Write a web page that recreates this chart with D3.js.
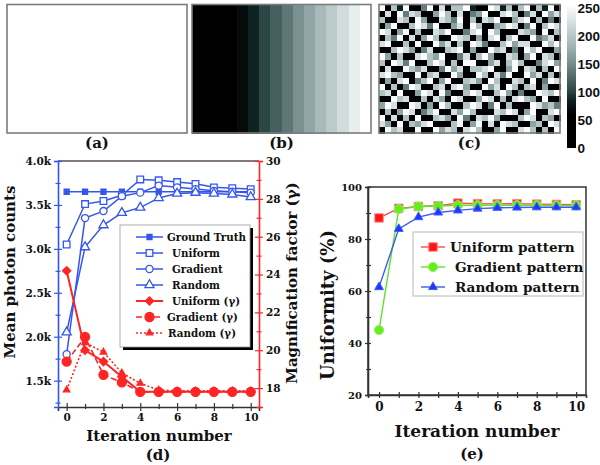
<!DOCTYPE html>
<html>
<head>
<meta charset="utf-8">
<script src="https://cdn.jsdelivr.net/npm/d3@7/dist/d3.min.js"></script>
<style>
html,body{margin:0;padding:0;background:#fff;}
svg{display:block;}
</style>
</head>
<body>
<svg id="chart" width="600" height="465"></svg>
<script>
// ---------------- data ----------------
const iterations = [0,1,2,3,4,5,6,7,8,9,10];
const groundTruthCounts = [3650,3650,3650,3650,3650,3650,3650,3650,3650,3650,3650];
const uniformCounts  = [3050,3510,3545,3610,3790,3780,3760,3740,3700,3690,3680];
const gradientCounts = [1800,3350,3430,3600,3640,3720,3700,3680,3660,3650,3640];
const randomCounts   = [2050,3020,3270,3410,3470,3580,3630,3640,3630,3620,3590];
const uniformGamma  = [24.2,20.0,19.4,18.6,17.8,17.8,17.8,17.8,17.8,17.8,17.8];
const gradientGamma = [19.4,20.7,18.7,18.3,17.8,17.8,17.8,17.8,17.8,17.8,17.8];
const randomGamma   = [17.9,20.4,19.9,18.8,18.25,17.9,17.85,17.85,17.85,17.85,17.85];
const uniformPattern  = [88.1,91.8,92.5,92.8,93.8,93.6,93.5,93.6,93.4,93.3,93.2];
const gradientPattern = [45.0,91.5,92.5,92.7,93.0,93.0,93.0,93.0,93.0,92.9,92.9];
const randomPattern   = [61.5,83.9,88.4,90.2,91.0,91.7,92.0,92.1,92.2,92.2,92.2];

const countTicks = [1500,2000,2500,3000,3500,4000];
const countMinorTicks = [1250,1750,2250,2750,3250,3750];
const gammaTicks = [18,20,22,24,26,28,30];
const gammaMinorTicks = [17,19,21,23,25,27,29];
const iterTicks = [0,2,4,6,8,10];
const iterMinorTicks = [1,3,5,7,9];
const uniformityTicks = [20,40,60,80,100];
const uniformityMinorTicks = [30,50,70,90];
const colorbarTicks = [0,50,100,150,200,250];
const panelLabels = ["(a)","(b)","(c)","(d)","(e)"];
const legendNamesD = ["Ground Truth","Uniform","Gradient","Random","Uniform (\u03b3)","Gradient (\u03b3)","Random (\u03b3)"];
const legendNamesE = ["Uniform pattern","Gradient pattern","Random pattern"];

// pixel intensities of the three projected patterns (0-255)
const uniformImage  = [255,255,255,255,255,255,255,255,255,255,255,255,255,255,255,255];
const gradientImage = [0,17,34,51,68,85,102,119,136,153,170,187,204,221,238,255];
// random pattern, one digit per cell (intensity = digit * 28)
const randomImageRows = [
  "907390059080779300983707907390",
  "080958700697080569008970580968",
  "700870960087590708790068907050",
  "069007985900680970067980590798",
  "980690700879005890970008760907",
  "075908069700987060890790095680",
  "890070900968070985007968800979",
  "007986058007890600978050979006",
  "960700897690058079600870690870",
  "709859007980709900680797005896",
  "080097680059680778900690870709",
  "897600907800960097085900968070",
  "060890579069007860970087090598",
  "907059800780896009680970780600",
  "780900698095007980079605009879",
  "009780070860980069807089760900",
  "698009806097007980590700098675",
  "070698057900869700087980690089",
  "908070900786095087960007980760",
  "860907689000790690809870067098",
  "097800900968708970069008970709"
];

// ---------------- drawing ----------------
const SERIF = "'DejaVu Serif', serif";
const SANS = "'Liberation Sans', Arial, sans-serif";
const BLUE = "#3556ee";
const RED = "#ff2424";
const svg = d3.select("#chart");

const gray = d3.scaleLinear()
  .domain([0,60,85,102,119,136,153,170,187,204,221,238,255])
  .range(["#000000","#000000","#0f2222","#2c4646","#455e5e","#5e7676","#7a9191","#91a6a6","#a8baba","#bccaca","#d2dcdc","#e8eeee","#ffffff"])
  .clamp(true);

function drawImage(x0, x1, y0, y1, rows) {
  const ncol = rows[0].length, nrow = rows.length;
  const xs = d3.scaleBand().domain(d3.range(ncol)).range([x0, x1]);
  const ys = d3.scaleBand().domain(d3.range(nrow)).range([y0, y1]);
  const g = svg.append("g").attr("shape-rendering", "crispEdges");
  rows.forEach((row, r) => {
    g.selectAll(null).data(row).enter().append("rect")
      .attr("x", (v, c) => xs(c)).attr("y", ys(r))
      .attr("width", xs.bandwidth() + 0.6).attr("height", ys.bandwidth() + 0.6)
      .attr("fill", v => gray(v));
  });
  svg.append("rect").attr("x", x0).attr("y", y0).attr("width", x1 - x0).attr("height", y1 - y0)
    .attr("fill", "none").attr("stroke", "#7c7c7c").attr("stroke-width", 1.6);
}
const topY0 = 4.5, topY1 = 133;
const boxes = [[7,187],[192,371],[379,560]];
drawImage(boxes[0][0], boxes[0][1], topY0, topY1, [uniformImage]);
drawImage(boxes[1][0], boxes[1][1], topY0, topY1, [gradientImage]);
drawImage(boxes[2][0], boxes[2][1], topY0, topY1, randomImageRows.map(s => s.split("").map(ch => +ch * 28)));
boxes.forEach((b, i) => {
  svg.append("text").attr("x", (b[0] + b[1]) / 2).attr("y", 148)
    .attr("text-anchor", "middle").attr("font-family", SERIF).attr("font-weight", "bold").attr("font-size", 15)
    .attr("fill", "#111").text(panelLabels[i]);
});

// colorbar
const cb = d3.scaleLinear().domain([0,255]).range([148,5]);
const defs = svg.append("defs");
const grad = defs.append("linearGradient").attr("id","cbgrad").attr("x1",0).attr("y1",1).attr("x2",0).attr("y2",0);
gray.domain().forEach(v => grad.append("stop").attr("offset", v/255).attr("stop-color", gray(v)));
svg.append("rect").attr("x",567).attr("y",cb(255)).attr("width",9).attr("height",cb(0)-cb(255)).attr("fill","url(#cbgrad)");
const cbAxis = svg.append("g").attr("transform","translate(576,0)")
  .call(d3.axisRight(cb).tickValues(colorbarTicks).tickSize(0).tickPadding(1.5));
cbAxis.select(".domain").remove();
cbAxis.selectAll("text").attr("font-family",SANS).attr("font-weight","bold").attr("font-size",13.5).attr("fill","#111");

// ---------- panel (d) ----------
const dX = d3.scaleLinear().domain([-0.47,10.45]).range([58,259]);
const dL = d3.scaleLinear().domain([1200,4000]).range([407,161]);
const dR = d3.scaleLinear().domain([17,30]).range([407,161]);

function styleAxis(g, color, size) {
  g.select(".domain").attr("stroke", color).attr("stroke-width", 1.6);
  g.selectAll(".tick line").attr("stroke", color).attr("stroke-width", 1.2);
  g.selectAll("text").attr("font-family", SERIF).attr("font-weight", "bold").attr("font-size", size).attr("fill", "#111");
}
function ticksOnly(g) { g.select(".domain").remove(); }

svg.append("line").attr("x1",58).attr("x2",259).attr("y1",161).attr("y2",161).attr("stroke","#5a4a5a").attr("stroke-width",1.4);

// bottom
let g;
g = svg.append("g").attr("transform","translate(0,407)")
  .call(d3.axisBottom(dX).tickValues(iterTicks).tickSize(4).tickPadding(3));
styleAxis(g, "#333", 10.5);
svg.append("g").attr("transform","translate(0,407)").call(d3.axisBottom(dX).tickValues(iterTicks).tickSize(-4).tickFormat("")).call(ticksOnly).call(s=>styleAxis(s,"#333",10));
svg.append("g").attr("transform","translate(0,407)").call(d3.axisBottom(dX).tickValues(iterMinorTicks).tickSize(-3).tickFormat("")).call(ticksOnly).call(s=>styleAxis(s,"#333",10));
svg.append("g").attr("transform","translate(0,407)").call(d3.axisBottom(dX).tickValues(iterMinorTicks).tickSize(2).tickFormat("")).call(ticksOnly).call(s=>styleAxis(s,"#333",10));

// left
g = svg.append("g").attr("transform","translate(58,0)")
  .call(d3.axisLeft(dL).tickValues(countTicks).tickFormat(d => (d/1000).toFixed(1) + "k").tickSize(4).tickPadding(3));
styleAxis(g, BLUE, 10.5);
svg.append("g").attr("transform","translate(58,0)").call(d3.axisLeft(dL).tickValues(countTicks).tickSize(-4).tickFormat("")).call(ticksOnly).call(s=>styleAxis(s,BLUE,10));
svg.append("g").attr("transform","translate(58,0)").call(d3.axisLeft(dL).tickValues(countMinorTicks).tickSize(2.5).tickFormat("")).call(ticksOnly).call(s=>styleAxis(s,BLUE,10));
svg.append("g").attr("transform","translate(58,0)").call(d3.axisLeft(dL).tickValues(countMinorTicks).tickSize(-2.5).tickFormat("")).call(ticksOnly).call(s=>styleAxis(s,BLUE,10));

// right
g = svg.append("g").attr("transform","translate(259,0)")
  .call(d3.axisRight(dR).tickValues(gammaTicks).tickSize(4).tickPadding(3));
styleAxis(g, RED, 10.5);
svg.append("g").attr("transform","translate(259,0)").call(d3.axisRight(dR).tickValues(gammaTicks).tickSize(-4).tickFormat("")).call(ticksOnly).call(s=>styleAxis(s,RED,10));
svg.append("g").attr("transform","translate(259,0)").call(d3.axisRight(dR).tickValues(gammaMinorTicks).tickSize(2.5).tickFormat("")).call(ticksOnly).call(s=>styleAxis(s,RED,10));
svg.append("g").attr("transform","translate(259,0)").call(d3.axisRight(dR).tickValues(gammaMinorTicks).tickSize(-2.5).tickFormat("")).call(ticksOnly).call(s=>styleAxis(s,RED,10));

// axis titles (d)
svg.append("text").attr("transform","translate(10,272) rotate(-90)").attr("dy","0.35em")
  .attr("text-anchor","middle").attr("font-family",SERIF).attr("font-weight","bold").attr("font-size",15).attr("fill","#111")
  .text("Mean photon counts");
svg.append("text").attr("transform","translate(292,283) rotate(-90)").attr("dy","0.35em")
  .attr("text-anchor","middle").attr("font-family",SERIF).attr("font-weight","bold").attr("font-size",15).attr("fill","#111")
  .text("Magnification  factor (\u03b3)");
svg.append("text").attr("x",159).attr("y",441).attr("text-anchor","middle").attr("font-family",SERIF)
  .attr("font-weight","bold").attr("font-size",15).attr("fill","#111").text("Iteration number");
svg.append("text").attr("x",158).attr("y",460).attr("text-anchor","middle").attr("font-family",SERIF)
  .attr("font-weight","bold").attr("font-size",15).attr("fill","#111").text(panelLabels[3]);

// series (d)
const dSeries = [
  {vals: groundTruthCounts, y: dL, color: BLUE, dash: null, w: 1.5, sym: d3.symbol().type(d3.symbolSquare).size(25)(), fill: BLUE, rot: 0},
  {vals: uniformCounts, y: dL, color: BLUE, dash: null, w: 1.5, sym: d3.symbol().type(d3.symbolSquare).size(44)(), fill: "#fff", rot: 0},
  {vals: gradientCounts, y: dL, color: BLUE, dash: null, w: 1.5, sym: d3.symbol().type(d3.symbolCircle).size(40)(), fill: "#fff", rot: 0},
  {vals: randomCounts, y: dL, color: BLUE, dash: null, w: 1.5, sym: d3.symbol().type(d3.symbolTriangle).size(36)(), fill: "#fff", rot: 0},
  {vals: uniformGamma, y: dR, color: RED, dash: null, w: 2, sym: d3.symbol().type(d3.symbolSquare).size(34)(), fill: RED, rot: 45},
  {vals: gradientGamma, y: dR, color: RED, dash: "6,3", w: 1.6, sym: d3.symbol().type(d3.symbolCircle).size(64)(), fill: RED, rot: 0},
  {vals: randomGamma, y: dR, color: RED, dash: "2,2", w: 1.6, sym: d3.symbol().type(d3.symbolTriangle).size(18)(), fill: RED, rot: 0}
];
dSeries.forEach(s => {
  const pts = iterations.map((it, i) => [dX(it), s.y(s.vals[i])]);
  svg.append("path").attr("d", d3.line()(pts)).attr("fill","none").attr("stroke", s.color)
    .attr("stroke-width", s.w).attr("stroke-dasharray", s.dash);
  svg.append("g").selectAll("path").data(pts).enter().append("path")
    .attr("d", s.sym).attr("transform", p => `translate(${p[0]},${p[1]}) rotate(${s.rot})`)
    .attr("fill", s.fill).attr("stroke", s.color).attr("stroke-width", 1.3);
});

// legend (d)
svg.append("rect").attr("x",123).attr("y",228).attr("width",130).attr("height",122).attr("fill","#000");
svg.append("rect").attr("x",120).attr("y",225).attr("width",130).attr("height",122).attr("fill","#fff").attr("stroke","#999").attr("stroke-width",0.8);
const legY = [237,253,269,285,301,317,333];
const legTX = [167,172,172,172,172,167,168];
dSeries.forEach((s, i) => {
  svg.append("line").attr("x1",136).attr("x2",163).attr("y1",legY[i]).attr("y2",legY[i])
    .attr("stroke", s.color).attr("stroke-width", s.w).attr("stroke-dasharray", s.dash);
  svg.append("path").attr("d", s.sym).attr("transform", `translate(149.5,${legY[i]}) rotate(${s.rot})`)
    .attr("fill", s.fill).attr("stroke", s.color).attr("stroke-width", 1.3);
  svg.append("text").attr("x", legTX[i]).attr("y", legY[i]).attr("dy","0.35em")
    .attr("font-family",SERIF).attr("font-weight","bold").attr("font-size",10.3).attr("fill","#111")
    .text(legendNamesD[i]);
});

// ---------- panel (e) ----------
const eX = d3.scaleLinear().domain([-0.56,10.5]).range([368,586]);
const eY = d3.scaleLinear().domain([20,100]).range([395,187]);
svg.append("rect").attr("x",368).attr("y",187).attr("width",218).attr("height",208)
  .attr("fill","none").attr("stroke","#333").attr("stroke-width",1.5);
g = svg.append("g").attr("transform","translate(0,395)")
  .call(d3.axisBottom(eX).tickValues(iterTicks).tickSize(3).tickPadding(4));
styleAxis(g, "#333", 12);
svg.append("g").attr("transform","translate(0,395)").call(d3.axisBottom(eX).tickValues(iterations).tickSize(-3).tickFormat("")).call(ticksOnly).call(s=>styleAxis(s,"#333",10));
svg.append("g").attr("transform","translate(0,395)").call(d3.axisBottom(eX).tickValues(iterMinorTicks).tickSize(3).tickFormat("")).call(ticksOnly).call(s=>styleAxis(s,"#333",10));
g = svg.append("g").attr("transform","translate(368,0)")
  .call(d3.axisLeft(eY).tickValues(uniformityTicks).tickSize(3).tickPadding(3));
styleAxis(g, "#333", 10);
svg.append("g").attr("transform","translate(368,0)").call(d3.axisLeft(eY).tickValues(uniformityTicks).tickSize(-3).tickFormat("")).call(ticksOnly).call(s=>styleAxis(s,"#333",10));
svg.append("g").attr("transform","translate(368,0)").call(d3.axisLeft(eY).tickValues(uniformityMinorTicks).tickSize(-3).tickFormat("")).call(ticksOnly).call(s=>styleAxis(s,"#333",10));
svg.append("g").attr("transform","translate(368,0)").call(d3.axisLeft(eY).tickValues(uniformityMinorTicks).tickSize(2).tickFormat("")).call(ticksOnly).call(s=>styleAxis(s,"#333",10));

svg.append("text").attr("transform","translate(328,305) rotate(-90)").attr("dy","0.35em")
  .attr("text-anchor","middle").attr("font-family",SERIF).attr("font-weight","bold").attr("font-size",18).attr("fill","#111")
  .text("Uniformity (%)");
svg.append("text").attr("x",477).attr("y",437).attr("text-anchor","middle").attr("font-family",SERIF)
  .attr("font-weight","bold").attr("font-size",17).attr("fill","#111").text("Iteration number");
svg.append("text").attr("x",472).attr("y",459).attr("text-anchor","middle").attr("font-family",SERIF)
  .attr("font-weight","bold").attr("font-size",15).attr("fill","#111").text(panelLabels[4]);

const eSeries = [
  {vals: uniformPattern, line: "#ff4a4a", fill: "#ff1414", stroke: "#ff8a8a", sym: d3.symbol().type(d3.symbolSquare).size(72)()},
  {vals: gradientPattern, line: "#5fe02a", fill: "#66ee1a", stroke: "#8ef060", sym: d3.symbol().type(d3.symbolCircle).size(66)()},
  {vals: randomPattern, line: "#3a5cf0", fill: "#1f36ff", stroke: "#4060ff", sym: d3.symbol().type(d3.symbolTriangle).size(34)()}
];
eSeries.forEach(s => {
  const pts = iterations.map((it, i) => [eX(it), eY(s.vals[i])]);
  svg.append("path").attr("d", d3.line()(pts)).attr("fill","none").attr("stroke", s.line).attr("stroke-width", 1.4);
  svg.append("g").selectAll("path").data(pts).enter().append("path")
    .attr("d", s.sym).attr("transform", p => `translate(${p[0]},${p[1]})`)
    .attr("fill", s.fill).attr("stroke", s.stroke).attr("stroke-width", 1);
});
svg.append("rect").attr("x",413).attr("y",232).attr("width",170).attr("height",64)
  .attr("fill","#fff").attr("stroke","#b8b8b8").attr("stroke-width",1);
const legEY = [247,267,287];
const legEX = [450,455,455];
eSeries.forEach((s, i) => {
  svg.append("line").attr("x1",421).attr("x2",445).attr("y1",legEY[i]).attr("y2",legEY[i])
    .attr("stroke", s.line).attr("stroke-width", 1.4);
  svg.append("path").attr("d", s.sym).attr("transform", `translate(433,${legEY[i]})`)
    .attr("fill", s.fill).attr("stroke", s.stroke).attr("stroke-width", 1);
  svg.append("text").attr("x", legEX[i]).attr("y", legEY[i]).attr("dy","0.35em")
    .attr("font-family",SERIF).attr("font-weight","bold").attr("font-size",13.6).attr("fill","#111").text(legendNamesE[i]);
});
</script>
</body>
</html>
